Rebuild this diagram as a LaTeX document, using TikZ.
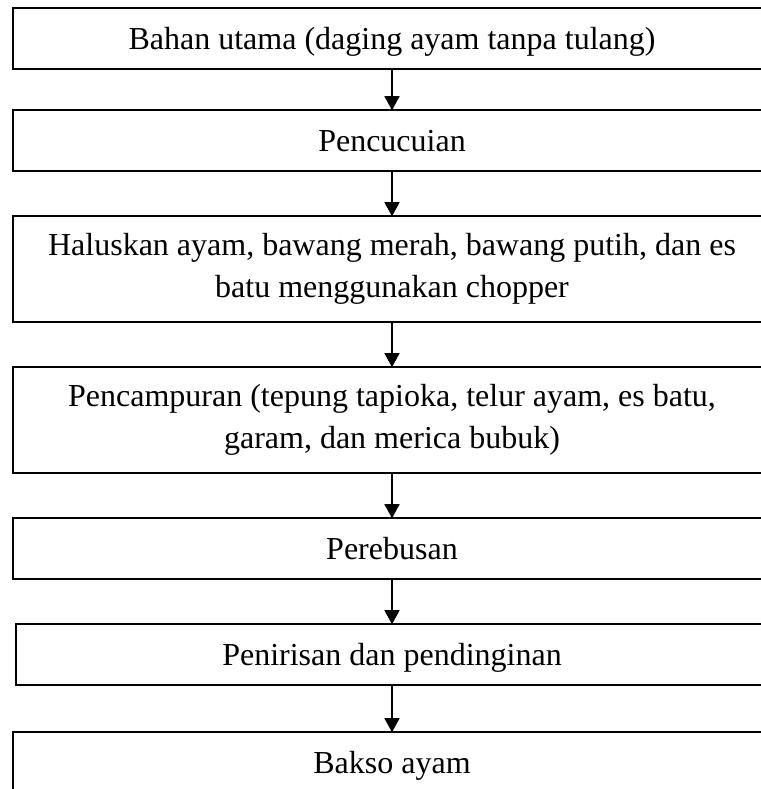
\documentclass[tikz,border=0pt]{standalone}
\usepackage{fontspec}
\setmainfont{Liberation Serif}
\usetikzlibrary{positioning,arrows.meta}

\begin{document}
\begin{tikzpicture}[
    x=1pt, y=1pt,
    node distance=45pt,
    langkah/.style = {draw, line width=1.5pt, outer sep=0pt, inner sep=0pt,
                      minimum width=758pt, minimum height=61pt,
                      align=center, font=\fontsize{32}{42}\selectfont},
    satubaris/.style = {text height=26pt, text depth=4.5pt},
    tinggi/.style = {minimum height=106pt},
    panah/.style = {-{Triangle[length=14pt,width=15pt]}, line width=1.5pt}
    ]
\useasboundingbox (0,0) rectangle (760,-789);

\node[langkah, satubaris] (bahan) at (392,-38.7) {Bahan utama (daging ayam tanpa tulang)};
\node[langkah, satubaris, below=41pt of bahan] (cuci) {Pencucuian};
\node[langkah, tinggi, below=of cuci] (halus) {Haluskan ayam, bawang merah, bawang putih, dan es\\batu menggunakan chopper};
\node[langkah, tinggi, below=of halus] (campur) {Pencampuran (tepung tapioka, telur ayam, es batu,\\garam, dan merica bubuk)};
\node[langkah, satubaris, below=of campur] (rebus) {Perebusan};
\node[langkah, satubaris, minimum width=752pt, below=of rebus] (tiris) {Penirisan dan pendinginan};
\node[langkah, satubaris, below=47pt of tiris] (bakso) {Bakso ayam};

% alur proses
\foreach \dari/\ke in {bahan/cuci, cuci/halus, halus/campur, campur/rebus, rebus/tiris, tiris/bakso}
    \draw[panah] (\dari) -- (\ke);
\end{tikzpicture}
\end{document}
